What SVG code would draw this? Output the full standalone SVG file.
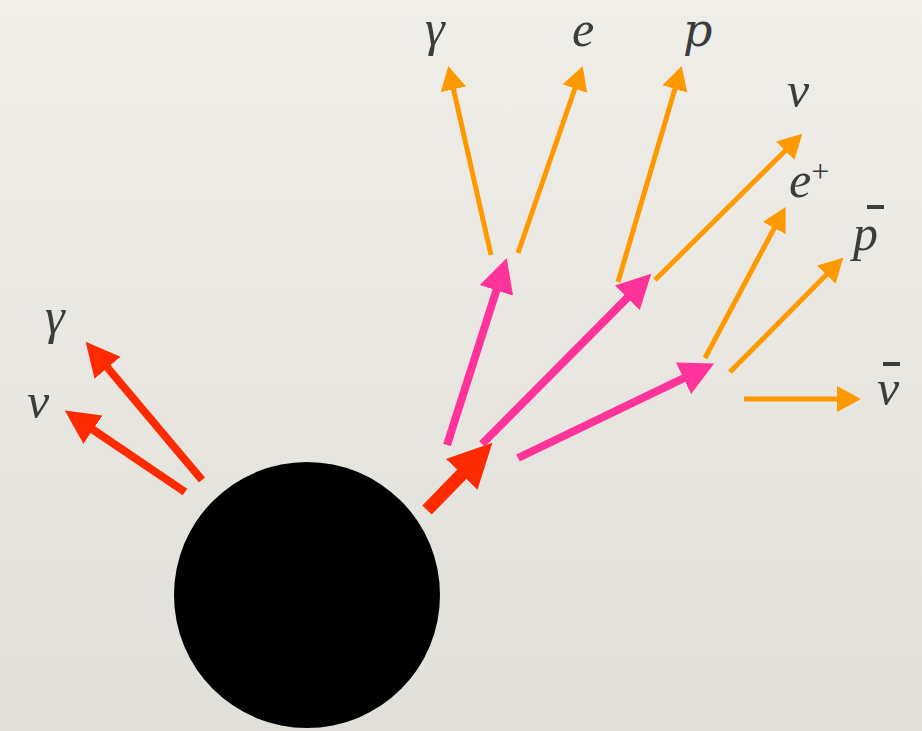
<svg xmlns="http://www.w3.org/2000/svg" width="922" height="731" viewBox="0 0 922 731">
<defs>
<linearGradient id="bg" x1="0" y1="0" x2="0" y2="1">
<stop offset="0" stop-color="#f0eee9"/>
<stop offset="1" stop-color="#e1dfda"/>
</linearGradient>
<marker id="hOr" markerUnits="userSpaceOnUse" orient="auto" markerWidth="30" markerHeight="30" refX="1" refY="13" viewBox="0 0 30 26"><path d="M0,0 L24,13 L0,26 Z" fill="#ff9900"/></marker>
<marker id="hPk" markerUnits="userSpaceOnUse" orient="auto" markerWidth="40" markerHeight="40" refX="1" refY="17.5" viewBox="0 0 40 35"><path d="M0,0 L34,17.5 L0,35 Z" fill="#ff3399"/></marker>
<marker id="hRd" markerUnits="userSpaceOnUse" orient="auto" markerWidth="40" markerHeight="40" refX="1" refY="17" viewBox="0 0 40 34"><path d="M0,0 L34,17 L0,34 Z" fill="#ff2a00"/></marker>
<marker id="hRdB" markerUnits="userSpaceOnUse" orient="auto" markerWidth="50" markerHeight="50" refX="1" refY="22" viewBox="0 0 50 44"><path d="M0,0 L44,22 L0,44 Z" fill="#ff2a00"/></marker>
</defs>
<rect width="922" height="731" fill="url(#bg)"/>
<g id="blackhole"><circle cx="307" cy="595" r="133" fill="#000"/></g>
<g id="connectors" fill="none">
<g stroke="#ff2a00" stroke-width="8" marker-end="url(#hRd)">
<line x1="202" y1="480" x2="106.9" y2="367"/>
<line x1="185" y1="492" x2="92.1" y2="429.1"/>
</g>
<line stroke="#ff2a00" stroke-width="13" marker-end="url(#hRdB)" x1="427" y1="510" x2="462.4" y2="473.6"/>
<g stroke="#ff3399" stroke-width="8" marker-end="url(#hPk)">
<line x1="447" y1="445" x2="496.7" y2="289.4"/>
<line x1="482" y1="444" x2="628" y2="297.1"/>
<line x1="518" y1="458" x2="684.4" y2="377.8"/>
</g>
<g stroke="#ff9900" stroke-width="5" marker-end="url(#hOr)">
<line x1="491" y1="255" x2="453.3" y2="88.4"/>
<line x1="518" y1="253" x2="575.2" y2="87.7"/>
<line x1="618" y1="282" x2="675.2" y2="88"/>
<line x1="655" y1="280" x2="786" y2="149.9"/>
<line x1="705" y1="358" x2="774.7" y2="227.2"/>
<line x1="730" y1="372" x2="827.1" y2="274"/>
<line x1="744" y1="399" x2="838" y2="399"/>
</g>
</g>
<g id="labels" fill="#3c3c3c">
<text x="45" y="333" font-family="'Liberation Serif', serif" font-style="italic" font-size="50">γ</text>
<text x="27" y="418" font-family="Times New Roman" font-style="italic" font-size="50">ν</text>
<text x="425" y="45" font-family="serif" font-style="italic" font-size="50">γ</text>
<text x="572" y="46" font-family="Liberation Serif, serif" font-style="italic" font-size="50">e</text>
<text x="683" y="46" font-family="DejaVu Serif" font-style="italic" font-size="46">p</text>
<text x="787" y="107" font-family="Liberation Serif" font-style="italic" font-size="50">ν</text>
<text x="789" y="197" font-family="Liberation Serif" font-style="italic" font-size="50">e<tspan font-size="32" font-style="normal" dy="-15">+</tspan></text>
<g id="pbar"><text x="853" y="250" font-family="Liberation Serif" font-style="italic" font-size="50">p</text><rect x="867" y="205" width="17" height="4"/></g>
<g id="nubar"><text x="877" y="405" font-family="Liberation Serif" font-style="italic" font-size="50">ν</text><rect x="883" y="362" width="17" height="4"/></g>
</g>
</svg>
